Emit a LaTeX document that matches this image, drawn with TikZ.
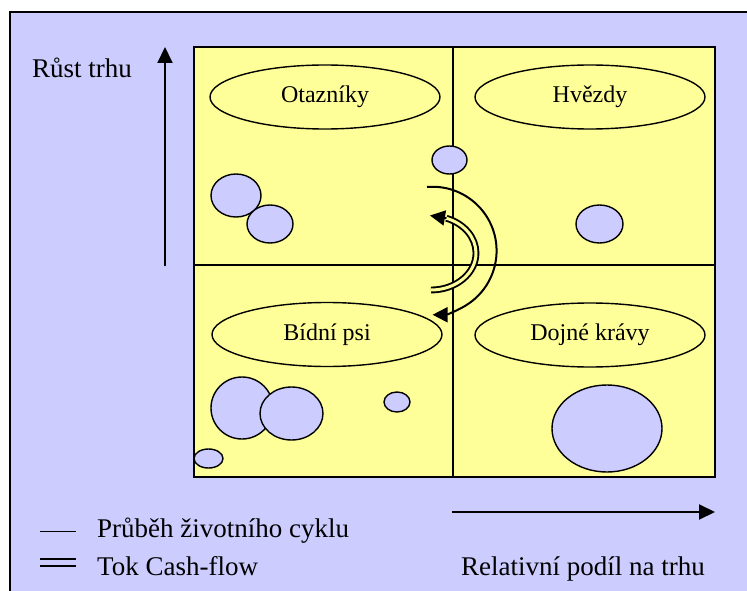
\documentclass[tikz,border=0pt]{standalone}
\usepackage{fontspec}
\setmainfont{Liberation Serif}
\usetikzlibrary{shapes.geometric,arrows.meta}
\definecolor{bgblue}{HTML}{CCCCFF}
\definecolor{paleyellow}{HTML}{FFFF99}
\begin{document}
\begin{tikzpicture}[x=1pt,y=-1pt,
  frame/.style={draw=black,line width=1.5pt},
  divline/.style={draw=black,line width=1.4pt},
  quad/.style={ellipse,draw=black,line width=1.4pt,fill=paleyellow,minimum width=230pt,minimum height=64pt,inner sep=0pt,font=\fontsize{24}{28}\selectfont},
  bubble/.style={draw=black,line width=1.4pt,fill=bgblue},
  axisarrow/.style={line width=2pt,-{Triangle[length=16pt,width=15pt]}},
  cyclearrow/.style={line width=2pt,-{Triangle[length=15pt,width=15pt]}},
  cashflow/.style={draw=black,line width=1.9pt,double=paleyellow,double distance=3pt},
  txt/.style={font=\fontsize{27}{31}\selectfont,inner sep=0pt}
]
\useasboundingbox (0,0) rectangle (747,591);
\fill[white] (0,0) rectangle (747,591);
% outer panel
\draw[frame,fill=bgblue] (10,12) rectangle (770,610);
% quadrant box
\draw[frame,fill=paleyellow] (194,47) rectangle (715,477);
\draw[divline] (453,47) -- (453,477);
\draw[divline] (194,265) -- (715,265);
% bubbles
\draw[bubble] (449.5,160) ellipse [x radius=17.5, y radius=14];
\draw[bubble] (236,195.5) ellipse [x radius=25, y radius=21.5];
\draw[bubble] (270,224) ellipse [x radius=23, y radius=19];
\draw[bubble] (599.5,224) ellipse [x radius=23.5, y radius=19];
\draw[bubble] (242,408) ellipse [x radius=31, y radius=31];
\draw[bubble] (291.5,413.5) ellipse [x radius=31.5, y radius=26.5];
\draw[bubble] (397,402) ellipse [x radius=13, y radius=10];
\draw[bubble] (208.5,458.5) ellipse [x radius=14.5, y radius=9.5];
\draw[bubble] (607,428.5) ellipse [x radius=55, y radius=43.5];
% quadrant labels
\node[quad] (otazniky) at (325,97) {Otazníky};
\node[quad] (hvezdy) at (590,97) {Hvězdy};
\node[quad] (bidni) at (327,334.5) {Bídní psi};
\node[quad] (dojne) at (590,335) {Dojné krávy};
% life-cycle arc
\coordinate (cycstart) at (427,187);
\draw[cyclearrow] (cycstart) arc[start angle=-95, end angle=90, radius=64];
% cash-flow double arc
\coordinate (cashstart) at (431,290);
\draw[cashflow] (cashstart) arc[start angle=90, end angle=-70, x radius=45, y radius=37] coordinate (cashend);
\coordinate (cashtip) at (430,215.5);
\draw[cyclearrow] (cashend) -- (cashtip);
% axes
\coordinate (vbot) at (165,266);
\coordinate (vtop) at (165,47);
\draw[axisarrow] (vbot) -- (vtop);
\coordinate (hleft) at (452,512);
\coordinate (hright) at (715,512);
\draw[axisarrow] (hleft) -- (hright);
% texts
\node[txt,anchor=base west] (rust) at (32,78) {Růst trhu};
\node[txt,anchor=base west] (relativni) at (461,575) {Relativní podíl na trhu};
\node[txt,anchor=base west] (prubeh) at (97,537) {Průběh životního cyklu};
\node[txt,anchor=base west] (tok) at (97,575) {Tok Cash-flow};
% legend lines
\coordinate (l1a) at (40,531.5);
\coordinate (l1b) at (76,531.5);
\draw[line width=1.8pt] (l1a) -- (l1b);
\coordinate (l2a) at (40,562.5);
\coordinate (l2b) at (76,562.5);
\draw[line width=1.8pt,double=bgblue,double distance=4.5pt] (l2a) -- (l2b);
\end{tikzpicture}
\end{document}
